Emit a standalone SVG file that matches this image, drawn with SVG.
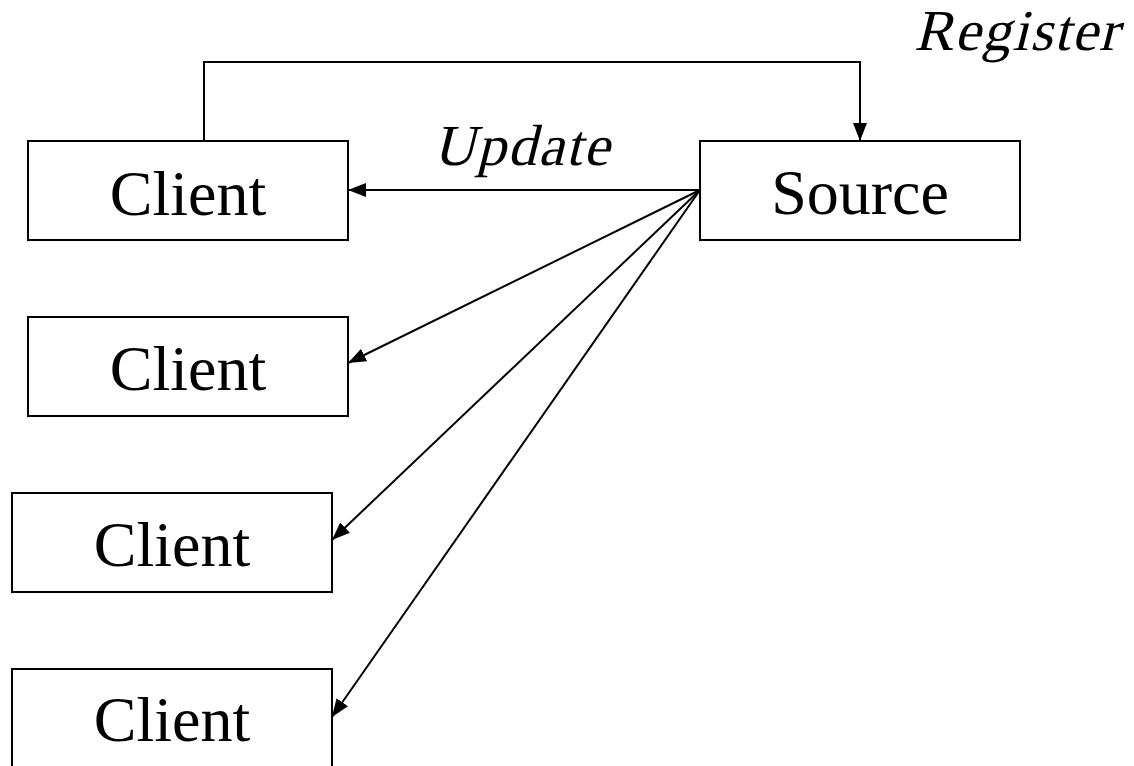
<svg xmlns="http://www.w3.org/2000/svg" width="1134" height="766" viewBox="0 0 1134 766">
<style>
.box{fill:#fff;stroke:#000;stroke-width:2}
.lbl{font-family:"Liberation Serif","Times New Roman",serif;font-size:64px;fill:#000;text-anchor:middle}
.it{font-family:"Liberation Serif","Times New Roman",serif;font-size:58px;fill:#000}
.con{fill:none;stroke:#000;stroke-width:2}
</style>
<defs>
<marker id="ah" viewBox="0 0 18 14" refX="18" refY="7" markerWidth="18" markerHeight="14" markerUnits="userSpaceOnUse" orient="auto">
<path d="M0,0 L18,7 L0,14 Z" fill="#000"/>
</marker>
</defs>
<rect width="1134" height="766" fill="#fff"/>
<g id="connectors">
<path class="con" d="M204,141 V62 H860 V141" marker-end="url(#ah)"/>
<line class="con" x1="700" y1="190" x2="348" y2="190" marker-end="url(#ah)"/>
<line class="con" x1="700" y1="190" x2="348" y2="363" marker-end="url(#ah)"/>
<line class="con" x1="700" y1="190" x2="332" y2="540" marker-end="url(#ah)"/>
<line class="con" x1="700" y1="190" x2="332" y2="717" marker-end="url(#ah)"/>
</g>
<g id="label-register" transform="translate(914,50) skewX(-14)"><text class="it" x="0" y="0" textLength="204" lengthAdjust="spacing">Register</text></g>
<g id="label-update" transform="translate(433,165) skewX(-14)"><text class="it" x="0" y="0" textLength="176" lengthAdjust="spacing">Update</text></g>
<g id="client1"><rect class="box" x="28" y="141" width="320" height="99"/><text class="lbl" x="188" y="215">Client</text></g>
<g id="source"><rect class="box" x="700" y="141" width="320" height="99"/><text class="lbl" x="860" y="214">Source</text></g>
<g id="client2"><rect class="box" x="28" y="317" width="320" height="99"/><text class="lbl" x="188" y="390">Client</text></g>
<g id="client3"><rect class="box" x="12" y="493" width="320" height="99"/><text class="lbl" x="172" y="566">Client</text></g>
<g id="client4"><rect class="box" x="12" y="669" width="320" height="99"/><text class="lbl" x="172" y="741">Client</text></g>
</svg>
